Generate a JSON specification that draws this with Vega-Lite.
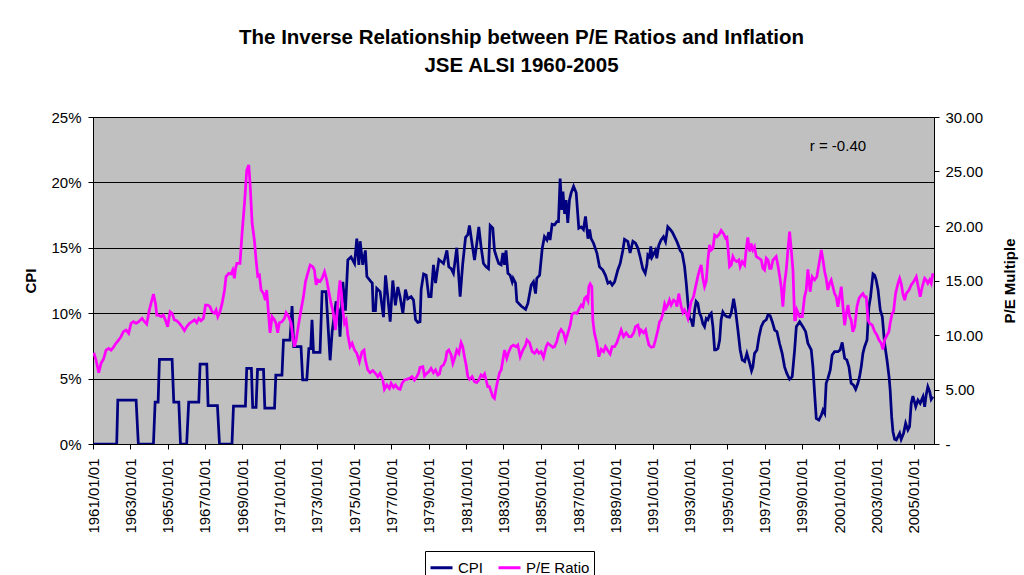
{
  "$schema": "https://vega.github.io/schema/vega-lite/v6.json",
  "width": 841,
  "height": 327,
  "autosize": {"type": "none"},
  "padding": {"left": 93, "top": 117, "right": 90, "bottom": 131},
  "background": "white",
  "title": {
    "text": ["The Inverse Relationship between P/E Ratios and Inflation", "JSE ALSI 1960-2005"],
    "font": "Liberation Sans",
    "fontSize": 20.5,
    "fontWeight": "bold",
    "lineHeight": 28,
    "color": "black",
    "anchor": "middle",
    "dx": 8,
    "offset": 34
  },
  "config": {
    "font": "Liberation Sans",
    "view": {"fill": "#C0C0C0", "stroke": "#808080", "strokeWidth": 1},
    "axis": {
      "labelFont": "Liberation Sans",
      "titleFont": "Liberation Sans",
      "labelColor": "black",
      "titleColor": "black",
      "domainColor": "black",
      "tickColor": "black",
      "labelFontSize": 15,
      "titleFontSize": 15,
      "tickSize": 5
    },
    "axisX": {"labelOverlap": false, "labelFlush": false, "labelBound": false, "labelSeparation": 0}
  },
  "data": {
    "values": [
      {"s": "CPI", "t": 1961.0, "v": 0},
      {"s": "CPI", "t": 1962.27, "v": 0},
      {"s": "CPI", "t": 1962.33, "v": 3.36},
      {"s": "CPI", "t": 1963.31, "v": 3.36},
      {"s": "CPI", "t": 1963.43, "v": 0},
      {"s": "CPI", "t": 1964.24, "v": 0},
      {"s": "CPI", "t": 1964.33, "v": 3.2},
      {"s": "CPI", "t": 1964.49, "v": 3.2},
      {"s": "CPI", "t": 1964.56, "v": 6.47},
      {"s": "CPI", "t": 1965.24, "v": 6.47},
      {"s": "CPI", "t": 1965.33, "v": 3.2},
      {"s": "CPI", "t": 1965.6, "v": 3.2},
      {"s": "CPI", "t": 1965.69, "v": 0},
      {"s": "CPI", "t": 1966.02, "v": 0},
      {"s": "CPI", "t": 1966.13, "v": 3.2},
      {"s": "CPI", "t": 1966.67, "v": 3.2},
      {"s": "CPI", "t": 1966.74, "v": 6.1},
      {"s": "CPI", "t": 1967.1, "v": 6.1},
      {"s": "CPI", "t": 1967.17, "v": 2.93},
      {"s": "CPI", "t": 1967.67, "v": 2.93},
      {"s": "CPI", "t": 1967.78, "v": 0},
      {"s": "CPI", "t": 1968.45, "v": 0},
      {"s": "CPI", "t": 1968.53, "v": 2.9},
      {"s": "CPI", "t": 1969.17, "v": 2.9},
      {"s": "CPI", "t": 1969.24, "v": 5.79},
      {"s": "CPI", "t": 1969.49, "v": 5.79},
      {"s": "CPI", "t": 1969.56, "v": 2.8},
      {"s": "CPI", "t": 1969.74, "v": 2.8},
      {"s": "CPI", "t": 1969.82, "v": 5.7},
      {"s": "CPI", "t": 1970.14, "v": 5.7},
      {"s": "CPI", "t": 1970.21, "v": 2.75},
      {"s": "CPI", "t": 1970.73, "v": 2.75},
      {"s": "CPI", "t": 1970.8, "v": 5.27},
      {"s": "CPI", "t": 1971.13, "v": 5.27},
      {"s": "CPI", "t": 1971.21, "v": 7.95},
      {"s": "CPI", "t": 1971.56, "v": 7.95},
      {"s": "CPI", "t": 1971.67, "v": 10.55},
      {"s": "CPI", "t": 1971.76, "v": 7.44},
      {"s": "CPI", "t": 1972.15, "v": 7.44},
      {"s": "CPI", "t": 1972.24, "v": 4.9},
      {"s": "CPI", "t": 1972.46, "v": 4.9},
      {"s": "CPI", "t": 1972.57, "v": 7.3},
      {"s": "CPI", "t": 1972.67, "v": 7.3},
      {"s": "CPI", "t": 1972.74, "v": 9.5},
      {"s": "CPI", "t": 1972.82, "v": 7.0},
      {"s": "CPI", "t": 1973.17, "v": 7.0},
      {"s": "CPI", "t": 1973.28, "v": 11.65},
      {"s": "CPI", "t": 1973.49, "v": 11.65},
      {"s": "CPI", "t": 1973.71, "v": 6.4},
      {"s": "CPI", "t": 1973.82, "v": 8.6},
      {"s": "CPI", "t": 1974.03, "v": 10.9},
      {"s": "CPI", "t": 1974.17, "v": 10.2},
      {"s": "CPI", "t": 1974.24, "v": 8.2},
      {"s": "CPI", "t": 1974.39, "v": 12.4},
      {"s": "CPI", "t": 1974.53, "v": 10.2},
      {"s": "CPI", "t": 1974.66, "v": 14.07},
      {"s": "CPI", "t": 1974.83, "v": 14.3},
      {"s": "CPI", "t": 1975.02, "v": 13.8},
      {"s": "CPI", "t": 1975.14, "v": 15.7},
      {"s": "CPI", "t": 1975.25, "v": 13.7},
      {"s": "CPI", "t": 1975.32, "v": 15.5},
      {"s": "CPI", "t": 1975.46, "v": 13.7},
      {"s": "CPI", "t": 1975.6, "v": 14.8},
      {"s": "CPI", "t": 1975.68, "v": 12.8},
      {"s": "CPI", "t": 1975.91, "v": 12.4},
      {"s": "CPI", "t": 1975.97, "v": 12.3},
      {"s": "CPI", "t": 1976.02, "v": 10.2},
      {"s": "CPI", "t": 1976.14, "v": 10.2},
      {"s": "CPI", "t": 1976.21, "v": 11.9},
      {"s": "CPI", "t": 1976.39, "v": 11.65},
      {"s": "CPI", "t": 1976.57, "v": 9.7},
      {"s": "CPI", "t": 1976.68, "v": 12.9},
      {"s": "CPI", "t": 1976.8, "v": 11.26},
      {"s": "CPI", "t": 1976.93, "v": 9.35},
      {"s": "CPI", "t": 1977.07, "v": 12.5},
      {"s": "CPI", "t": 1977.21, "v": 10.6},
      {"s": "CPI", "t": 1977.34, "v": 12.0},
      {"s": "CPI", "t": 1977.46, "v": 11.26},
      {"s": "CPI", "t": 1977.61, "v": 10.0},
      {"s": "CPI", "t": 1977.75, "v": 11.8},
      {"s": "CPI", "t": 1977.87, "v": 11.1},
      {"s": "CPI", "t": 1978.05, "v": 11.26},
      {"s": "CPI", "t": 1978.18, "v": 11.0},
      {"s": "CPI", "t": 1978.29, "v": 9.5},
      {"s": "CPI", "t": 1978.41, "v": 9.3},
      {"s": "CPI", "t": 1978.53, "v": 9.35},
      {"s": "CPI", "t": 1978.59, "v": 11.8},
      {"s": "CPI", "t": 1978.72, "v": 13.0},
      {"s": "CPI", "t": 1978.86, "v": 12.9},
      {"s": "CPI", "t": 1979.0, "v": 11.26},
      {"s": "CPI", "t": 1979.12, "v": 11.26},
      {"s": "CPI", "t": 1979.25, "v": 13.7},
      {"s": "CPI", "t": 1979.36, "v": 12.3},
      {"s": "CPI", "t": 1979.54, "v": 14.1},
      {"s": "CPI", "t": 1979.79, "v": 13.8},
      {"s": "CPI", "t": 1979.97, "v": 14.8},
      {"s": "CPI", "t": 1980.07, "v": 13.55},
      {"s": "CPI", "t": 1980.2, "v": 13.4},
      {"s": "CPI", "t": 1980.32, "v": 13.05},
      {"s": "CPI", "t": 1980.5, "v": 15.0},
      {"s": "CPI", "t": 1980.68, "v": 11.26},
      {"s": "CPI", "t": 1980.82, "v": 13.8},
      {"s": "CPI", "t": 1980.97, "v": 15.8},
      {"s": "CPI", "t": 1981.09, "v": 16.0},
      {"s": "CPI", "t": 1981.18, "v": 16.7},
      {"s": "CPI", "t": 1981.29, "v": 15.6},
      {"s": "CPI", "t": 1981.45, "v": 14.07},
      {"s": "CPI", "t": 1981.57, "v": 15.3},
      {"s": "CPI", "t": 1981.68, "v": 16.6},
      {"s": "CPI", "t": 1981.8, "v": 15.1},
      {"s": "CPI", "t": 1981.93, "v": 13.8},
      {"s": "CPI", "t": 1982.07, "v": 13.55},
      {"s": "CPI", "t": 1982.2, "v": 13.4},
      {"s": "CPI", "t": 1982.29, "v": 16.7},
      {"s": "CPI", "t": 1982.43, "v": 16.5},
      {"s": "CPI", "t": 1982.52, "v": 14.8},
      {"s": "CPI", "t": 1982.65, "v": 14.2},
      {"s": "CPI", "t": 1982.75, "v": 13.8},
      {"s": "CPI", "t": 1982.88, "v": 13.7},
      {"s": "CPI", "t": 1982.97, "v": 14.6},
      {"s": "CPI", "t": 1983.06, "v": 13.7},
      {"s": "CPI", "t": 1983.14, "v": 14.8},
      {"s": "CPI", "t": 1983.24, "v": 13.05},
      {"s": "CPI", "t": 1983.36, "v": 12.9},
      {"s": "CPI", "t": 1983.47, "v": 12.4},
      {"s": "CPI", "t": 1983.52, "v": 12.67},
      {"s": "CPI", "t": 1983.65, "v": 12.3},
      {"s": "CPI", "t": 1983.72, "v": 10.9},
      {"s": "CPI", "t": 1983.95, "v": 10.55},
      {"s": "CPI", "t": 1984.19, "v": 10.3},
      {"s": "CPI", "t": 1984.31, "v": 10.75},
      {"s": "CPI", "t": 1984.49, "v": 12.15},
      {"s": "CPI", "t": 1984.61, "v": 12.4},
      {"s": "CPI", "t": 1984.72, "v": 11.5},
      {"s": "CPI", "t": 1984.79, "v": 12.67},
      {"s": "CPI", "t": 1984.94, "v": 12.9},
      {"s": "CPI", "t": 1985.08, "v": 14.96},
      {"s": "CPI", "t": 1985.2, "v": 15.85},
      {"s": "CPI", "t": 1985.33, "v": 15.6},
      {"s": "CPI", "t": 1985.43, "v": 16.2},
      {"s": "CPI", "t": 1985.5, "v": 15.6},
      {"s": "CPI", "t": 1985.61, "v": 16.8},
      {"s": "CPI", "t": 1985.74, "v": 16.75},
      {"s": "CPI", "t": 1985.86, "v": 17.0},
      {"s": "CPI", "t": 1985.95, "v": 17.0},
      {"s": "CPI", "t": 1986.04, "v": 20.3},
      {"s": "CPI", "t": 1986.13, "v": 17.9},
      {"s": "CPI", "t": 1986.19, "v": 19.3},
      {"s": "CPI", "t": 1986.28, "v": 17.6},
      {"s": "CPI", "t": 1986.36, "v": 18.65},
      {"s": "CPI", "t": 1986.45, "v": 16.9},
      {"s": "CPI", "t": 1986.54, "v": 18.65},
      {"s": "CPI", "t": 1986.63, "v": 19.2},
      {"s": "CPI", "t": 1986.76, "v": 19.7},
      {"s": "CPI", "t": 1986.9, "v": 19.2},
      {"s": "CPI", "t": 1987.04, "v": 16.5},
      {"s": "CPI", "t": 1987.17, "v": 16.6},
      {"s": "CPI", "t": 1987.29, "v": 16.4},
      {"s": "CPI", "t": 1987.4, "v": 17.4},
      {"s": "CPI", "t": 1987.53, "v": 15.7},
      {"s": "CPI", "t": 1987.62, "v": 16.4},
      {"s": "CPI", "t": 1987.7, "v": 15.7},
      {"s": "CPI", "t": 1987.83, "v": 15.35},
      {"s": "CPI", "t": 1988.01, "v": 14.6},
      {"s": "CPI", "t": 1988.15, "v": 13.55},
      {"s": "CPI", "t": 1988.33, "v": 13.3},
      {"s": "CPI", "t": 1988.47, "v": 12.9},
      {"s": "CPI", "t": 1988.6, "v": 12.3},
      {"s": "CPI", "t": 1988.72, "v": 12.4},
      {"s": "CPI", "t": 1988.83, "v": 12.15},
      {"s": "CPI", "t": 1988.96, "v": 12.4},
      {"s": "CPI", "t": 1989.13, "v": 13.3},
      {"s": "CPI", "t": 1989.26, "v": 13.8},
      {"s": "CPI", "t": 1989.4, "v": 14.8},
      {"s": "CPI", "t": 1989.49, "v": 15.65},
      {"s": "CPI", "t": 1989.67, "v": 15.47},
      {"s": "CPI", "t": 1989.79, "v": 14.6},
      {"s": "CPI", "t": 1989.94, "v": 15.5},
      {"s": "CPI", "t": 1990.08, "v": 15.35},
      {"s": "CPI", "t": 1990.21, "v": 14.96},
      {"s": "CPI", "t": 1990.33, "v": 14.3},
      {"s": "CPI", "t": 1990.47, "v": 13.4},
      {"s": "CPI", "t": 1990.6, "v": 13.05},
      {"s": "CPI", "t": 1990.69, "v": 13.7},
      {"s": "CPI", "t": 1990.74, "v": 14.45},
      {"s": "CPI", "t": 1990.83, "v": 14.3},
      {"s": "CPI", "t": 1990.9, "v": 15.1},
      {"s": "CPI", "t": 1990.97, "v": 14.3},
      {"s": "CPI", "t": 1991.15, "v": 14.8},
      {"s": "CPI", "t": 1991.22, "v": 14.2},
      {"s": "CPI", "t": 1991.33, "v": 15.2},
      {"s": "CPI", "t": 1991.45, "v": 15.6},
      {"s": "CPI", "t": 1991.58, "v": 15.85},
      {"s": "CPI", "t": 1991.69, "v": 15.47},
      {"s": "CPI", "t": 1991.81, "v": 16.6},
      {"s": "CPI", "t": 1991.94, "v": 16.4},
      {"s": "CPI", "t": 1992.05, "v": 16.2},
      {"s": "CPI", "t": 1992.17, "v": 15.85},
      {"s": "CPI", "t": 1992.3, "v": 15.47},
      {"s": "CPI", "t": 1992.4, "v": 15.1},
      {"s": "CPI", "t": 1992.47, "v": 14.8},
      {"s": "CPI", "t": 1992.58, "v": 14.6},
      {"s": "CPI", "t": 1992.71, "v": 13.55},
      {"s": "CPI", "t": 1992.8, "v": 12.3},
      {"s": "CPI", "t": 1992.89, "v": 10.75},
      {"s": "CPI", "t": 1992.98, "v": 9.6},
      {"s": "CPI", "t": 1993.06, "v": 9.5},
      {"s": "CPI", "t": 1993.16, "v": 8.97},
      {"s": "CPI", "t": 1993.25, "v": 10.24},
      {"s": "CPI", "t": 1993.33, "v": 10.9},
      {"s": "CPI", "t": 1993.42, "v": 10.75},
      {"s": "CPI", "t": 1993.51, "v": 10.0},
      {"s": "CPI", "t": 1993.6, "v": 9.73},
      {"s": "CPI", "t": 1993.69, "v": 9.2},
      {"s": "CPI", "t": 1993.78, "v": 8.97},
      {"s": "CPI", "t": 1993.87, "v": 9.6},
      {"s": "CPI", "t": 1993.96, "v": 9.5},
      {"s": "CPI", "t": 1994.05, "v": 9.86},
      {"s": "CPI", "t": 1994.14, "v": 10.0},
      {"s": "CPI", "t": 1994.23, "v": 8.97},
      {"s": "CPI", "t": 1994.32, "v": 7.19},
      {"s": "CPI", "t": 1994.4, "v": 7.19},
      {"s": "CPI", "t": 1994.5, "v": 7.3},
      {"s": "CPI", "t": 1994.59, "v": 7.95},
      {"s": "CPI", "t": 1994.67, "v": 9.5},
      {"s": "CPI", "t": 1994.76, "v": 10.1},
      {"s": "CPI", "t": 1994.86, "v": 9.86},
      {"s": "CPI", "t": 1994.98, "v": 9.73},
      {"s": "CPI", "t": 1995.12, "v": 9.7},
      {"s": "CPI", "t": 1995.21, "v": 10.0},
      {"s": "CPI", "t": 1995.34, "v": 11.1},
      {"s": "CPI", "t": 1995.44, "v": 10.24},
      {"s": "CPI", "t": 1995.57, "v": 8.7},
      {"s": "CPI", "t": 1995.69, "v": 7.19},
      {"s": "CPI", "t": 1995.8, "v": 6.42},
      {"s": "CPI", "t": 1995.93, "v": 6.3},
      {"s": "CPI", "t": 1996.05, "v": 6.93},
      {"s": "CPI", "t": 1996.2, "v": 6.17},
      {"s": "CPI", "t": 1996.3, "v": 5.6},
      {"s": "CPI", "t": 1996.37, "v": 5.9},
      {"s": "CPI", "t": 1996.46, "v": 6.93},
      {"s": "CPI", "t": 1996.59, "v": 7.19},
      {"s": "CPI", "t": 1996.7, "v": 8.2},
      {"s": "CPI", "t": 1996.82, "v": 8.97},
      {"s": "CPI", "t": 1996.95, "v": 9.35},
      {"s": "CPI", "t": 1997.09, "v": 9.5},
      {"s": "CPI", "t": 1997.18, "v": 9.86},
      {"s": "CPI", "t": 1997.3, "v": 9.8},
      {"s": "CPI", "t": 1997.41, "v": 9.35},
      {"s": "CPI", "t": 1997.54, "v": 8.7},
      {"s": "CPI", "t": 1997.66, "v": 8.59},
      {"s": "CPI", "t": 1997.8, "v": 7.7},
      {"s": "CPI", "t": 1997.94, "v": 6.93},
      {"s": "CPI", "t": 1998.07, "v": 5.9},
      {"s": "CPI", "t": 1998.19, "v": 5.4},
      {"s": "CPI", "t": 1998.34, "v": 4.95},
      {"s": "CPI", "t": 1998.48, "v": 5.15},
      {"s": "CPI", "t": 1998.61, "v": 7.19},
      {"s": "CPI", "t": 1998.7, "v": 8.97},
      {"s": "CPI", "t": 1998.88, "v": 9.35},
      {"s": "CPI", "t": 1999.05, "v": 8.97},
      {"s": "CPI", "t": 1999.2, "v": 8.59},
      {"s": "CPI", "t": 1999.32, "v": 7.7},
      {"s": "CPI", "t": 1999.5, "v": 7.19},
      {"s": "CPI", "t": 1999.59, "v": 5.9},
      {"s": "CPI", "t": 1999.68, "v": 3.87},
      {"s": "CPI", "t": 1999.77, "v": 1.96},
      {"s": "CPI", "t": 1999.91, "v": 1.83},
      {"s": "CPI", "t": 2000.04, "v": 2.2},
      {"s": "CPI", "t": 2000.13, "v": 2.6},
      {"s": "CPI", "t": 2000.22, "v": 2.35},
      {"s": "CPI", "t": 2000.3, "v": 4.64},
      {"s": "CPI", "t": 2000.39, "v": 5.0},
      {"s": "CPI", "t": 2000.52, "v": 5.66},
      {"s": "CPI", "t": 2000.62, "v": 6.8},
      {"s": "CPI", "t": 2000.75, "v": 7.06},
      {"s": "CPI", "t": 2000.93, "v": 7.06},
      {"s": "CPI", "t": 2001.05, "v": 7.19},
      {"s": "CPI", "t": 2001.16, "v": 7.77},
      {"s": "CPI", "t": 2001.29, "v": 6.55},
      {"s": "CPI", "t": 2001.41, "v": 6.42},
      {"s": "CPI", "t": 2001.52, "v": 5.9},
      {"s": "CPI", "t": 2001.64, "v": 4.64},
      {"s": "CPI", "t": 2001.77, "v": 4.5},
      {"s": "CPI", "t": 2001.88, "v": 4.18},
      {"s": "CPI", "t": 2002.0, "v": 4.64},
      {"s": "CPI", "t": 2002.09, "v": 5.15},
      {"s": "CPI", "t": 2002.18, "v": 5.9},
      {"s": "CPI", "t": 2002.27, "v": 6.93},
      {"s": "CPI", "t": 2002.36, "v": 7.44},
      {"s": "CPI", "t": 2002.49, "v": 7.95},
      {"s": "CPI", "t": 2002.59, "v": 10.5},
      {"s": "CPI", "t": 2002.68, "v": 11.26},
      {"s": "CPI", "t": 2002.81, "v": 13.0},
      {"s": "CPI", "t": 2002.9, "v": 12.9},
      {"s": "CPI", "t": 2002.98, "v": 12.54},
      {"s": "CPI", "t": 2003.08, "v": 11.8},
      {"s": "CPI", "t": 2003.2, "v": 10.24},
      {"s": "CPI", "t": 2003.31, "v": 9.73},
      {"s": "CPI", "t": 2003.43, "v": 7.7},
      {"s": "CPI", "t": 2003.56, "v": 6.42},
      {"s": "CPI", "t": 2003.67, "v": 5.15},
      {"s": "CPI", "t": 2003.73, "v": 4.13},
      {"s": "CPI", "t": 2003.81, "v": 2.09},
      {"s": "CPI", "t": 2003.88, "v": 0.94},
      {"s": "CPI", "t": 2003.97, "v": 0.36},
      {"s": "CPI", "t": 2004.06, "v": 0.31},
      {"s": "CPI", "t": 2004.15, "v": 0.56},
      {"s": "CPI", "t": 2004.24, "v": 0.82},
      {"s": "CPI", "t": 2004.32, "v": 0.36},
      {"s": "CPI", "t": 2004.45, "v": 0.82},
      {"s": "CPI", "t": 2004.56, "v": 1.58},
      {"s": "CPI", "t": 2004.68, "v": 1.07},
      {"s": "CPI", "t": 2004.77, "v": 1.32},
      {"s": "CPI", "t": 2004.86, "v": 3.11},
      {"s": "CPI", "t": 2004.95, "v": 3.67},
      {"s": "CPI", "t": 2005.1, "v": 2.85},
      {"s": "CPI", "t": 2005.22, "v": 3.36},
      {"s": "CPI", "t": 2005.34, "v": 3.11},
      {"s": "CPI", "t": 2005.49, "v": 3.62},
      {"s": "CPI", "t": 2005.58, "v": 2.85},
      {"s": "CPI", "t": 2005.66, "v": 3.75},
      {"s": "CPI", "t": 2005.75, "v": 4.38},
      {"s": "CPI", "t": 2005.85, "v": 4.0},
      {"s": "CPI", "t": 2005.93, "v": 3.42},
      {"s": "CPI", "t": 2006.02, "v": 3.62},

      {"s": "P/E Ratio", "t": 1961.04, "v": 8.38},
      {"s": "P/E Ratio", "t": 1961.16, "v": 7.7},
      {"s": "P/E Ratio", "t": 1961.31, "v": 6.54},
      {"s": "P/E Ratio", "t": 1961.43, "v": 7.4},
      {"s": "P/E Ratio", "t": 1961.56, "v": 7.77},
      {"s": "P/E Ratio", "t": 1961.7, "v": 8.62},
      {"s": "P/E Ratio", "t": 1961.84, "v": 8.78},
      {"s": "P/E Ratio", "t": 1961.97, "v": 8.62},
      {"s": "P/E Ratio", "t": 1962.09, "v": 8.87},
      {"s": "P/E Ratio", "t": 1962.23, "v": 9.24},
      {"s": "P/E Ratio", "t": 1962.38, "v": 9.54},
      {"s": "P/E Ratio", "t": 1962.5, "v": 9.85},
      {"s": "P/E Ratio", "t": 1962.63, "v": 10.3},
      {"s": "P/E Ratio", "t": 1962.77, "v": 10.46},
      {"s": "P/E Ratio", "t": 1962.91, "v": 10.15},
      {"s": "P/E Ratio", "t": 1963.04, "v": 11.07},
      {"s": "P/E Ratio", "t": 1963.17, "v": 11.22},
      {"s": "P/E Ratio", "t": 1963.31, "v": 11.07},
      {"s": "P/E Ratio", "t": 1963.45, "v": 11.22},
      {"s": "P/E Ratio", "t": 1963.63, "v": 11.53},
      {"s": "P/E Ratio", "t": 1963.76, "v": 11.22},
      {"s": "P/E Ratio", "t": 1963.88, "v": 11.0},
      {"s": "P/E Ratio", "t": 1964.02, "v": 12.3},
      {"s": "P/E Ratio", "t": 1964.11, "v": 12.9},
      {"s": "P/E Ratio", "t": 1964.24, "v": 13.76},
      {"s": "P/E Ratio", "t": 1964.35, "v": 12.9},
      {"s": "P/E Ratio", "t": 1964.42, "v": 11.83},
      {"s": "P/E Ratio", "t": 1964.52, "v": 11.83},
      {"s": "P/E Ratio", "t": 1964.65, "v": 11.68},
      {"s": "P/E Ratio", "t": 1964.77, "v": 11.83},
      {"s": "P/E Ratio", "t": 1964.88, "v": 11.38},
      {"s": "P/E Ratio", "t": 1965.0, "v": 10.76},
      {"s": "P/E Ratio", "t": 1965.13, "v": 12.14},
      {"s": "P/E Ratio", "t": 1965.24, "v": 11.99},
      {"s": "P/E Ratio", "t": 1965.36, "v": 11.38},
      {"s": "P/E Ratio", "t": 1965.49, "v": 11.31},
      {"s": "P/E Ratio", "t": 1965.63, "v": 11.07},
      {"s": "P/E Ratio", "t": 1965.77, "v": 10.76},
      {"s": "P/E Ratio", "t": 1965.9, "v": 10.4},
      {"s": "P/E Ratio", "t": 1966.02, "v": 10.76},
      {"s": "P/E Ratio", "t": 1966.17, "v": 11.07},
      {"s": "P/E Ratio", "t": 1966.31, "v": 11.22},
      {"s": "P/E Ratio", "t": 1966.44, "v": 11.38},
      {"s": "P/E Ratio", "t": 1966.56, "v": 11.13},
      {"s": "P/E Ratio", "t": 1966.67, "v": 11.53},
      {"s": "P/E Ratio", "t": 1966.79, "v": 11.31},
      {"s": "P/E Ratio", "t": 1966.92, "v": 11.53},
      {"s": "P/E Ratio", "t": 1967.03, "v": 12.75},
      {"s": "P/E Ratio", "t": 1967.15, "v": 12.75},
      {"s": "P/E Ratio", "t": 1967.27, "v": 12.6},
      {"s": "P/E Ratio", "t": 1967.38, "v": 12.14},
      {"s": "P/E Ratio", "t": 1967.51, "v": 11.99},
      {"s": "P/E Ratio", "t": 1967.6, "v": 12.3},
      {"s": "P/E Ratio", "t": 1967.69, "v": 11.68},
      {"s": "P/E Ratio", "t": 1967.81, "v": 12.14},
      {"s": "P/E Ratio", "t": 1967.92, "v": 12.9},
      {"s": "P/E Ratio", "t": 1968.05, "v": 14.13},
      {"s": "P/E Ratio", "t": 1968.13, "v": 15.35},
      {"s": "P/E Ratio", "t": 1968.28, "v": 15.66},
      {"s": "P/E Ratio", "t": 1968.4, "v": 15.6},
      {"s": "P/E Ratio", "t": 1968.49, "v": 15.96},
      {"s": "P/E Ratio", "t": 1968.58, "v": 15.2},
      {"s": "P/E Ratio", "t": 1968.64, "v": 16.1},
      {"s": "P/E Ratio", "t": 1968.71, "v": 16.57},
      {"s": "P/E Ratio", "t": 1968.88, "v": 16.57},
      {"s": "P/E Ratio", "t": 1968.99, "v": 19.33},
      {"s": "P/E Ratio", "t": 1969.12, "v": 22.08},
      {"s": "P/E Ratio", "t": 1969.24, "v": 25.1},
      {"s": "P/E Ratio", "t": 1969.35, "v": 25.6},
      {"s": "P/E Ratio", "t": 1969.42, "v": 23.9},
      {"s": "P/E Ratio", "t": 1969.53, "v": 20.25},
      {"s": "P/E Ratio", "t": 1969.65, "v": 18.7},
      {"s": "P/E Ratio", "t": 1969.74, "v": 16.9},
      {"s": "P/E Ratio", "t": 1969.83, "v": 15.4},
      {"s": "P/E Ratio", "t": 1969.92, "v": 15.5},
      {"s": "P/E Ratio", "t": 1970.01, "v": 14.13},
      {"s": "P/E Ratio", "t": 1970.14, "v": 13.8},
      {"s": "P/E Ratio", "t": 1970.24, "v": 13.2},
      {"s": "P/E Ratio", "t": 1970.31, "v": 14.13},
      {"s": "P/E Ratio", "t": 1970.42, "v": 11.68},
      {"s": "P/E Ratio", "t": 1970.49, "v": 10.2},
      {"s": "P/E Ratio", "t": 1970.6, "v": 11.68},
      {"s": "P/E Ratio", "t": 1970.73, "v": 11.38},
      {"s": "P/E Ratio", "t": 1970.81, "v": 11.07},
      {"s": "P/E Ratio", "t": 1970.9, "v": 10.2},
      {"s": "P/E Ratio", "t": 1970.99, "v": 11.13},
      {"s": "P/E Ratio", "t": 1971.13, "v": 11.22},
      {"s": "P/E Ratio", "t": 1971.26, "v": 11.53},
      {"s": "P/E Ratio", "t": 1971.35, "v": 12.05},
      {"s": "P/E Ratio", "t": 1971.49, "v": 11.68},
      {"s": "P/E Ratio", "t": 1971.62, "v": 11.07},
      {"s": "P/E Ratio", "t": 1971.71, "v": 9.85},
      {"s": "P/E Ratio", "t": 1971.8, "v": 8.93},
      {"s": "P/E Ratio", "t": 1971.89, "v": 9.54},
      {"s": "P/E Ratio", "t": 1972.03, "v": 11.07},
      {"s": "P/E Ratio", "t": 1972.15, "v": 12.3},
      {"s": "P/E Ratio", "t": 1972.28, "v": 13.5},
      {"s": "P/E Ratio", "t": 1972.39, "v": 14.9},
      {"s": "P/E Ratio", "t": 1972.51, "v": 15.66},
      {"s": "P/E Ratio", "t": 1972.64, "v": 16.42},
      {"s": "P/E Ratio", "t": 1972.78, "v": 16.27},
      {"s": "P/E Ratio", "t": 1972.87, "v": 15.96},
      {"s": "P/E Ratio", "t": 1972.96, "v": 14.6},
      {"s": "P/E Ratio", "t": 1973.05, "v": 15.05},
      {"s": "P/E Ratio", "t": 1973.17, "v": 14.9},
      {"s": "P/E Ratio", "t": 1973.28, "v": 15.2},
      {"s": "P/E Ratio", "t": 1973.41, "v": 15.8},
      {"s": "P/E Ratio", "t": 1973.53, "v": 15.05},
      {"s": "P/E Ratio", "t": 1973.64, "v": 13.97},
      {"s": "P/E Ratio", "t": 1973.76, "v": 12.9},
      {"s": "P/E Ratio", "t": 1973.85, "v": 12.3},
      {"s": "P/E Ratio", "t": 1973.94, "v": 11.38},
      {"s": "P/E Ratio", "t": 1974.0, "v": 10.46},
      {"s": "P/E Ratio", "t": 1974.07, "v": 11.68},
      {"s": "P/E Ratio", "t": 1974.17, "v": 13.8},
      {"s": "P/E Ratio", "t": 1974.24, "v": 15.0},
      {"s": "P/E Ratio", "t": 1974.32, "v": 13.8},
      {"s": "P/E Ratio", "t": 1974.39, "v": 12.3},
      {"s": "P/E Ratio", "t": 1974.48, "v": 11.07},
      {"s": "P/E Ratio", "t": 1974.57, "v": 11.38},
      {"s": "P/E Ratio", "t": 1974.66, "v": 10.0},
      {"s": "P/E Ratio", "t": 1974.78, "v": 8.93},
      {"s": "P/E Ratio", "t": 1974.89, "v": 9.24},
      {"s": "P/E Ratio", "t": 1975.02, "v": 8.62},
      {"s": "P/E Ratio", "t": 1975.14, "v": 8.32},
      {"s": "P/E Ratio", "t": 1975.28, "v": 7.55},
      {"s": "P/E Ratio", "t": 1975.42, "v": 8.47},
      {"s": "P/E Ratio", "t": 1975.53, "v": 8.62},
      {"s": "P/E Ratio", "t": 1975.6, "v": 7.7},
      {"s": "P/E Ratio", "t": 1975.73, "v": 6.79},
      {"s": "P/E Ratio", "t": 1975.85, "v": 6.54},
      {"s": "P/E Ratio", "t": 1976.0, "v": 6.73},
      {"s": "P/E Ratio", "t": 1976.14, "v": 6.48},
      {"s": "P/E Ratio", "t": 1976.27, "v": 6.18},
      {"s": "P/E Ratio", "t": 1976.39, "v": 6.48},
      {"s": "P/E Ratio", "t": 1976.53, "v": 5.93},
      {"s": "P/E Ratio", "t": 1976.62, "v": 5.02},
      {"s": "P/E Ratio", "t": 1976.75, "v": 5.41},
      {"s": "P/E Ratio", "t": 1976.89, "v": 5.11},
      {"s": "P/E Ratio", "t": 1976.98, "v": 5.57},
      {"s": "P/E Ratio", "t": 1977.11, "v": 5.2},
      {"s": "P/E Ratio", "t": 1977.21, "v": 5.41},
      {"s": "P/E Ratio", "t": 1977.34, "v": 5.11},
      {"s": "P/E Ratio", "t": 1977.46, "v": 5.02},
      {"s": "P/E Ratio", "t": 1977.57, "v": 5.57},
      {"s": "P/E Ratio", "t": 1977.7, "v": 5.87},
      {"s": "P/E Ratio", "t": 1977.82, "v": 5.93},
      {"s": "P/E Ratio", "t": 1977.97, "v": 6.03},
      {"s": "P/E Ratio", "t": 1978.1, "v": 6.18},
      {"s": "P/E Ratio", "t": 1978.23, "v": 5.87},
      {"s": "P/E Ratio", "t": 1978.36, "v": 6.18},
      {"s": "P/E Ratio", "t": 1978.46, "v": 6.54},
      {"s": "P/E Ratio", "t": 1978.53, "v": 7.03},
      {"s": "P/E Ratio", "t": 1978.68, "v": 7.09},
      {"s": "P/E Ratio", "t": 1978.77, "v": 6.24},
      {"s": "P/E Ratio", "t": 1978.89, "v": 6.48},
      {"s": "P/E Ratio", "t": 1979.0, "v": 6.63},
      {"s": "P/E Ratio", "t": 1979.12, "v": 6.94},
      {"s": "P/E Ratio", "t": 1979.25, "v": 6.54},
      {"s": "P/E Ratio", "t": 1979.36, "v": 6.79},
      {"s": "P/E Ratio", "t": 1979.48, "v": 6.33},
      {"s": "P/E Ratio", "t": 1979.57, "v": 6.42},
      {"s": "P/E Ratio", "t": 1979.66, "v": 7.09},
      {"s": "P/E Ratio", "t": 1979.79, "v": 7.25},
      {"s": "P/E Ratio", "t": 1979.9, "v": 7.7},
      {"s": "P/E Ratio", "t": 1979.97, "v": 8.47},
      {"s": "P/E Ratio", "t": 1980.07, "v": 8.62},
      {"s": "P/E Ratio", "t": 1980.2, "v": 8.17},
      {"s": "P/E Ratio", "t": 1980.29, "v": 7.4},
      {"s": "P/E Ratio", "t": 1980.38, "v": 7.86},
      {"s": "P/E Ratio", "t": 1980.5, "v": 8.62},
      {"s": "P/E Ratio", "t": 1980.61, "v": 8.32},
      {"s": "P/E Ratio", "t": 1980.73, "v": 9.3},
      {"s": "P/E Ratio", "t": 1980.82, "v": 8.93},
      {"s": "P/E Ratio", "t": 1980.91, "v": 8.0},
      {"s": "P/E Ratio", "t": 1981.0, "v": 7.25},
      {"s": "P/E Ratio", "t": 1981.09, "v": 6.18},
      {"s": "P/E Ratio", "t": 1981.18, "v": 5.93},
      {"s": "P/E Ratio", "t": 1981.32, "v": 6.18},
      {"s": "P/E Ratio", "t": 1981.45, "v": 5.72},
      {"s": "P/E Ratio", "t": 1981.57, "v": 5.63},
      {"s": "P/E Ratio", "t": 1981.68, "v": 5.87},
      {"s": "P/E Ratio", "t": 1981.8, "v": 6.33},
      {"s": "P/E Ratio", "t": 1981.9, "v": 6.18},
      {"s": "P/E Ratio", "t": 1981.99, "v": 6.42},
      {"s": "P/E Ratio", "t": 1982.07, "v": 5.87},
      {"s": "P/E Ratio", "t": 1982.16, "v": 5.26},
      {"s": "P/E Ratio", "t": 1982.25, "v": 5.26},
      {"s": "P/E Ratio", "t": 1982.34, "v": 4.8},
      {"s": "P/E Ratio", "t": 1982.43, "v": 4.34},
      {"s": "P/E Ratio", "t": 1982.52, "v": 4.19},
      {"s": "P/E Ratio", "t": 1982.61, "v": 5.11},
      {"s": "P/E Ratio", "t": 1982.7, "v": 5.87},
      {"s": "P/E Ratio", "t": 1982.79, "v": 6.54},
      {"s": "P/E Ratio", "t": 1982.88, "v": 6.79},
      {"s": "P/E Ratio", "t": 1982.97, "v": 7.7},
      {"s": "P/E Ratio", "t": 1983.06, "v": 8.62},
      {"s": "P/E Ratio", "t": 1983.18, "v": 7.86},
      {"s": "P/E Ratio", "t": 1983.29, "v": 8.47},
      {"s": "P/E Ratio", "t": 1983.41, "v": 8.93},
      {"s": "P/E Ratio", "t": 1983.54, "v": 9.08},
      {"s": "P/E Ratio", "t": 1983.68, "v": 8.93},
      {"s": "P/E Ratio", "t": 1983.77, "v": 9.08},
      {"s": "P/E Ratio", "t": 1983.9, "v": 8.01},
      {"s": "P/E Ratio", "t": 1984.04, "v": 8.62},
      {"s": "P/E Ratio", "t": 1984.19, "v": 9.08},
      {"s": "P/E Ratio", "t": 1984.26, "v": 9.54},
      {"s": "P/E Ratio", "t": 1984.4, "v": 9.3},
      {"s": "P/E Ratio", "t": 1984.54, "v": 8.47},
      {"s": "P/E Ratio", "t": 1984.67, "v": 8.32},
      {"s": "P/E Ratio", "t": 1984.79, "v": 8.62},
      {"s": "P/E Ratio", "t": 1984.9, "v": 8.32},
      {"s": "P/E Ratio", "t": 1985.02, "v": 8.47},
      {"s": "P/E Ratio", "t": 1985.15, "v": 7.95},
      {"s": "P/E Ratio", "t": 1985.29, "v": 8.93},
      {"s": "P/E Ratio", "t": 1985.38, "v": 9.24},
      {"s": "P/E Ratio", "t": 1985.5, "v": 9.08},
      {"s": "P/E Ratio", "t": 1985.65, "v": 8.87},
      {"s": "P/E Ratio", "t": 1985.74, "v": 8.93},
      {"s": "P/E Ratio", "t": 1985.86, "v": 9.39},
      {"s": "P/E Ratio", "t": 1985.97, "v": 10.15},
      {"s": "P/E Ratio", "t": 1986.09, "v": 10.5},
      {"s": "P/E Ratio", "t": 1986.22, "v": 10.2},
      {"s": "P/E Ratio", "t": 1986.33, "v": 9.48},
      {"s": "P/E Ratio", "t": 1986.45, "v": 10.15},
      {"s": "P/E Ratio", "t": 1986.58, "v": 10.9},
      {"s": "P/E Ratio", "t": 1986.68, "v": 11.9},
      {"s": "P/E Ratio", "t": 1986.81, "v": 12.05},
      {"s": "P/E Ratio", "t": 1986.94, "v": 11.99},
      {"s": "P/E Ratio", "t": 1987.04, "v": 12.35},
      {"s": "P/E Ratio", "t": 1987.17, "v": 12.75},
      {"s": "P/E Ratio", "t": 1987.26, "v": 12.6},
      {"s": "P/E Ratio", "t": 1987.35, "v": 13.36},
      {"s": "P/E Ratio", "t": 1987.43, "v": 13.5},
      {"s": "P/E Ratio", "t": 1987.53, "v": 13.15},
      {"s": "P/E Ratio", "t": 1987.58, "v": 14.43},
      {"s": "P/E Ratio", "t": 1987.65, "v": 14.68},
      {"s": "P/E Ratio", "t": 1987.74, "v": 14.43},
      {"s": "P/E Ratio", "t": 1987.79, "v": 11.38},
      {"s": "P/E Ratio", "t": 1987.88, "v": 10.15},
      {"s": "P/E Ratio", "t": 1988.01, "v": 9.24},
      {"s": "P/E Ratio", "t": 1988.12, "v": 8.01},
      {"s": "P/E Ratio", "t": 1988.24, "v": 8.68},
      {"s": "P/E Ratio", "t": 1988.37, "v": 8.47},
      {"s": "P/E Ratio", "t": 1988.47, "v": 8.93},
      {"s": "P/E Ratio", "t": 1988.6, "v": 8.56},
      {"s": "P/E Ratio", "t": 1988.72, "v": 8.26},
      {"s": "P/E Ratio", "t": 1988.83, "v": 8.93},
      {"s": "P/E Ratio", "t": 1988.96, "v": 8.93},
      {"s": "P/E Ratio", "t": 1989.08, "v": 9.3},
      {"s": "P/E Ratio", "t": 1989.19, "v": 9.85},
      {"s": "P/E Ratio", "t": 1989.31, "v": 10.46},
      {"s": "P/E Ratio", "t": 1989.44, "v": 9.85},
      {"s": "P/E Ratio", "t": 1989.58, "v": 10.2},
      {"s": "P/E Ratio", "t": 1989.72, "v": 9.85},
      {"s": "P/E Ratio", "t": 1989.85, "v": 9.85},
      {"s": "P/E Ratio", "t": 1989.98, "v": 10.2},
      {"s": "P/E Ratio", "t": 1990.08, "v": 10.76},
      {"s": "P/E Ratio", "t": 1990.21, "v": 10.9},
      {"s": "P/E Ratio", "t": 1990.3, "v": 10.15},
      {"s": "P/E Ratio", "t": 1990.38, "v": 10.46},
      {"s": "P/E Ratio", "t": 1990.51, "v": 10.2},
      {"s": "P/E Ratio", "t": 1990.62, "v": 10.46},
      {"s": "P/E Ratio", "t": 1990.69, "v": 9.85},
      {"s": "P/E Ratio", "t": 1990.8, "v": 9.08},
      {"s": "P/E Ratio", "t": 1990.92, "v": 8.87},
      {"s": "P/E Ratio", "t": 1991.05, "v": 8.93},
      {"s": "P/E Ratio", "t": 1991.15, "v": 9.54},
      {"s": "P/E Ratio", "t": 1991.28, "v": 10.46},
      {"s": "P/E Ratio", "t": 1991.37, "v": 11.22},
      {"s": "P/E Ratio", "t": 1991.45, "v": 11.38},
      {"s": "P/E Ratio", "t": 1991.55, "v": 11.99},
      {"s": "P/E Ratio", "t": 1991.64, "v": 12.84},
      {"s": "P/E Ratio", "t": 1991.72, "v": 12.45},
      {"s": "P/E Ratio", "t": 1991.81, "v": 12.75},
      {"s": "P/E Ratio", "t": 1991.9, "v": 13.2},
      {"s": "P/E Ratio", "t": 1991.99, "v": 12.75},
      {"s": "P/E Ratio", "t": 1992.12, "v": 13.2},
      {"s": "P/E Ratio", "t": 1992.23, "v": 13.05},
      {"s": "P/E Ratio", "t": 1992.3, "v": 12.6},
      {"s": "P/E Ratio", "t": 1992.4, "v": 13.8},
      {"s": "P/E Ratio", "t": 1992.53, "v": 12.6},
      {"s": "P/E Ratio", "t": 1992.62, "v": 12.05},
      {"s": "P/E Ratio", "t": 1992.71, "v": 12.3},
      {"s": "P/E Ratio", "t": 1992.8, "v": 11.99},
      {"s": "P/E Ratio", "t": 1992.89, "v": 11.53},
      {"s": "P/E Ratio", "t": 1992.98, "v": 12.3},
      {"s": "P/E Ratio", "t": 1993.06, "v": 13.05},
      {"s": "P/E Ratio", "t": 1993.19, "v": 13.5},
      {"s": "P/E Ratio", "t": 1993.3, "v": 14.43},
      {"s": "P/E Ratio", "t": 1993.42, "v": 15.35},
      {"s": "P/E Ratio", "t": 1993.51, "v": 15.96},
      {"s": "P/E Ratio", "t": 1993.6, "v": 16.42},
      {"s": "P/E Ratio", "t": 1993.69, "v": 15.2},
      {"s": "P/E Ratio", "t": 1993.78, "v": 14.43},
      {"s": "P/E Ratio", "t": 1993.87, "v": 14.9},
      {"s": "P/E Ratio", "t": 1993.96, "v": 16.88},
      {"s": "P/E Ratio", "t": 1994.05, "v": 18.26},
      {"s": "P/E Ratio", "t": 1994.14, "v": 17.8},
      {"s": "P/E Ratio", "t": 1994.23, "v": 17.95},
      {"s": "P/E Ratio", "t": 1994.32, "v": 19.17},
      {"s": "P/E Ratio", "t": 1994.44, "v": 19.0},
      {"s": "P/E Ratio", "t": 1994.59, "v": 19.3},
      {"s": "P/E Ratio", "t": 1994.67, "v": 19.6},
      {"s": "P/E Ratio", "t": 1994.8, "v": 19.3},
      {"s": "P/E Ratio", "t": 1994.91, "v": 18.87},
      {"s": "P/E Ratio", "t": 1994.98, "v": 18.96},
      {"s": "P/E Ratio", "t": 1995.03, "v": 18.1},
      {"s": "P/E Ratio", "t": 1995.12, "v": 16.27},
      {"s": "P/E Ratio", "t": 1995.21, "v": 16.42},
      {"s": "P/E Ratio", "t": 1995.3, "v": 17.2},
      {"s": "P/E Ratio", "t": 1995.39, "v": 16.88},
      {"s": "P/E Ratio", "t": 1995.51, "v": 16.73},
      {"s": "P/E Ratio", "t": 1995.62, "v": 16.88},
      {"s": "P/E Ratio", "t": 1995.69, "v": 16.27},
      {"s": "P/E Ratio", "t": 1995.8, "v": 16.73},
      {"s": "P/E Ratio", "t": 1995.93, "v": 16.42},
      {"s": "P/E Ratio", "t": 1996.01, "v": 17.8},
      {"s": "P/E Ratio", "t": 1996.1, "v": 18.96},
      {"s": "P/E Ratio", "t": 1996.2, "v": 17.65},
      {"s": "P/E Ratio", "t": 1996.28, "v": 18.4},
      {"s": "P/E Ratio", "t": 1996.37, "v": 17.8},
      {"s": "P/E Ratio", "t": 1996.46, "v": 18.1},
      {"s": "P/E Ratio", "t": 1996.55, "v": 17.2},
      {"s": "P/E Ratio", "t": 1996.7, "v": 17.04},
      {"s": "P/E Ratio", "t": 1996.82, "v": 16.88},
      {"s": "P/E Ratio", "t": 1996.91, "v": 16.12},
      {"s": "P/E Ratio", "t": 1997.0, "v": 15.96},
      {"s": "P/E Ratio", "t": 1997.09, "v": 17.04},
      {"s": "P/E Ratio", "t": 1997.18, "v": 16.88},
      {"s": "P/E Ratio", "t": 1997.27, "v": 16.12},
      {"s": "P/E Ratio", "t": 1997.35, "v": 16.12},
      {"s": "P/E Ratio", "t": 1997.45, "v": 16.88},
      {"s": "P/E Ratio", "t": 1997.54, "v": 17.04},
      {"s": "P/E Ratio", "t": 1997.62, "v": 17.2},
      {"s": "P/E Ratio", "t": 1997.71, "v": 16.42},
      {"s": "P/E Ratio", "t": 1997.8, "v": 15.5},
      {"s": "P/E Ratio", "t": 1997.89, "v": 14.43},
      {"s": "P/E Ratio", "t": 1997.98, "v": 12.6},
      {"s": "P/E Ratio", "t": 1998.07, "v": 14.74},
      {"s": "P/E Ratio", "t": 1998.16, "v": 15.96},
      {"s": "P/E Ratio", "t": 1998.25, "v": 17.8},
      {"s": "P/E Ratio", "t": 1998.34, "v": 19.48},
      {"s": "P/E Ratio", "t": 1998.43, "v": 17.8},
      {"s": "P/E Ratio", "t": 1998.52, "v": 15.96},
      {"s": "P/E Ratio", "t": 1998.61, "v": 11.38},
      {"s": "P/E Ratio", "t": 1998.66, "v": 11.38},
      {"s": "P/E Ratio", "t": 1998.73, "v": 12.3},
      {"s": "P/E Ratio", "t": 1998.88, "v": 11.68},
      {"s": "P/E Ratio", "t": 1999.02, "v": 11.68},
      {"s": "P/E Ratio", "t": 1999.14, "v": 13.5},
      {"s": "P/E Ratio", "t": 1999.23, "v": 14.13},
      {"s": "P/E Ratio", "t": 1999.32, "v": 16.03},
      {"s": "P/E Ratio", "t": 1999.44, "v": 13.97},
      {"s": "P/E Ratio", "t": 1999.55, "v": 15.35},
      {"s": "P/E Ratio", "t": 1999.68, "v": 15.05},
      {"s": "P/E Ratio", "t": 1999.8, "v": 15.35},
      {"s": "P/E Ratio", "t": 1999.95, "v": 16.88},
      {"s": "P/E Ratio", "t": 2000.04, "v": 17.8},
      {"s": "P/E Ratio", "t": 2000.13, "v": 16.88},
      {"s": "P/E Ratio", "t": 2000.22, "v": 15.8},
      {"s": "P/E Ratio", "t": 2000.3, "v": 15.2},
      {"s": "P/E Ratio", "t": 2000.39, "v": 14.13},
      {"s": "P/E Ratio", "t": 2000.48, "v": 14.74},
      {"s": "P/E Ratio", "t": 2000.57, "v": 15.05},
      {"s": "P/E Ratio", "t": 2000.66, "v": 14.43},
      {"s": "P/E Ratio", "t": 2000.75, "v": 13.8},
      {"s": "P/E Ratio", "t": 2000.84, "v": 13.5},
      {"s": "P/E Ratio", "t": 2000.93, "v": 12.6},
      {"s": "P/E Ratio", "t": 2001.02, "v": 13.5},
      {"s": "P/E Ratio", "t": 2001.11, "v": 14.43},
      {"s": "P/E Ratio", "t": 2001.2, "v": 12.6},
      {"s": "P/E Ratio", "t": 2001.29, "v": 10.9},
      {"s": "P/E Ratio", "t": 2001.38, "v": 11.99},
      {"s": "P/E Ratio", "t": 2001.47, "v": 12.75},
      {"s": "P/E Ratio", "t": 2001.56, "v": 11.68},
      {"s": "P/E Ratio", "t": 2001.64, "v": 11.38},
      {"s": "P/E Ratio", "t": 2001.73, "v": 10.3},
      {"s": "P/E Ratio", "t": 2001.83, "v": 10.76},
      {"s": "P/E Ratio", "t": 2001.95, "v": 12.6},
      {"s": "P/E Ratio", "t": 2002.06, "v": 13.36},
      {"s": "P/E Ratio", "t": 2002.18, "v": 13.66},
      {"s": "P/E Ratio", "t": 2002.27, "v": 13.8},
      {"s": "P/E Ratio", "t": 2002.36, "v": 13.5},
      {"s": "P/E Ratio", "t": 2002.45, "v": 13.5},
      {"s": "P/E Ratio", "t": 2002.54, "v": 11.38},
      {"s": "P/E Ratio", "t": 2002.63, "v": 11.07},
      {"s": "P/E Ratio", "t": 2002.77, "v": 10.9},
      {"s": "P/E Ratio", "t": 2002.9, "v": 10.3},
      {"s": "P/E Ratio", "t": 2003.02, "v": 10.0},
      {"s": "P/E Ratio", "t": 2003.13, "v": 9.54},
      {"s": "P/E Ratio", "t": 2003.25, "v": 9.24},
      {"s": "P/E Ratio", "t": 2003.34, "v": 8.68},
      {"s": "P/E Ratio", "t": 2003.43, "v": 9.54},
      {"s": "P/E Ratio", "t": 2003.52, "v": 9.85},
      {"s": "P/E Ratio", "t": 2003.66, "v": 10.3},
      {"s": "P/E Ratio", "t": 2003.73, "v": 11.07},
      {"s": "P/E Ratio", "t": 2003.84, "v": 11.99},
      {"s": "P/E Ratio", "t": 2003.91, "v": 12.14},
      {"s": "P/E Ratio", "t": 2004.02, "v": 13.8},
      {"s": "P/E Ratio", "t": 2004.15, "v": 14.74},
      {"s": "P/E Ratio", "t": 2004.24, "v": 15.2},
      {"s": "P/E Ratio", "t": 2004.32, "v": 14.74},
      {"s": "P/E Ratio", "t": 2004.41, "v": 13.8},
      {"s": "P/E Ratio", "t": 2004.51, "v": 13.2},
      {"s": "P/E Ratio", "t": 2004.59, "v": 13.8},
      {"s": "P/E Ratio", "t": 2004.74, "v": 14.13},
      {"s": "P/E Ratio", "t": 2004.86, "v": 14.6},
      {"s": "P/E Ratio", "t": 2004.99, "v": 14.9},
      {"s": "P/E Ratio", "t": 2005.13, "v": 15.35},
      {"s": "P/E Ratio", "t": 2005.27, "v": 14.13},
      {"s": "P/E Ratio", "t": 2005.34, "v": 13.5},
      {"s": "P/E Ratio", "t": 2005.45, "v": 14.43},
      {"s": "P/E Ratio", "t": 2005.58, "v": 15.2},
      {"s": "P/E Ratio", "t": 2005.66, "v": 15.05},
      {"s": "P/E Ratio", "t": 2005.75, "v": 14.74},
      {"s": "P/E Ratio", "t": 2005.85, "v": 15.05},
      {"s": "P/E Ratio", "t": 2005.93, "v": 14.74},
      {"s": "P/E Ratio", "t": 2006.02, "v": 15.66}
    ]
  },
  "layer": [
    {
      "layer": [
        {
          "transform": [{"filter": "datum.s == 'CPI'"}],
          "mark": {"type": "line", "strokeWidth": 2.75, "clip": true},
          "encoding": {
            "x": {
              "field": "t", "type": "quantitative",
              "scale": {"domain": [1961, 2006.08], "nice": false, "zero": false},
              "axis": {
                "title": null,
                "values": [1961, 1963, 1965, 1967, 1969, 1971, 1973, 1975, 1977, 1979, 1981, 1983, 1985, 1987, 1989, 1991, 1993, 1995, 1997, 1999, 2001, 2003, 2005],
                "tickCount": 30,
                "labelExpr": "datum.value + '/01/01'",
                "labelAngle": 270,
                "labelPadding": 9,
                "labelOverlap": false,
                "labelFlush": false,
                "labelBound": false,
                "grid": false
              }
            },
            "y": {
              "field": "v", "type": "quantitative",
              "scale": {"domain": [0, 25], "nice": false, "zero": true},
              "axis": {
                "title": "CPI",
                "titleFontWeight": "bold",
                "titlePadding": 12,
                "values": [0, 5, 10, 15, 20, 25],
                "labelExpr": "datum.value + '%'",
                "labelPadding": 7,
                "grid": true,
                "gridColor": "black",
                "gridWidth": 1,
                "gridOpacity": 1
              }
            },
            "color": {
              "field": "s", "type": "nominal",
              "scale": {"domain": ["CPI", "P/E Ratio"], "range": ["#000080", "#FF00FF"]},
              "legend": {
                "orient": "none",
                "legendX": 332,
                "legendY": 434,
                "direction": "horizontal",
                "title": null,
                "labelFont": "Liberation Sans",
                "labelFontSize": 15,
                "labelColor": "black",
                "labelOffset": 4,
                "symbolType": "stroke",
                "symbolSize": 484,
                "symbolStrokeWidth": 3,
                "columnPadding": 8,
                "padding": 4,
                "strokeColor": "black",
                "fillColor": "white",
                "cornerRadius": 0
              }
            }
          }
        },
        {
          "data": {"values": [{"label": "r = -0.40"}]},
          "mark": {"type": "text", "font": "Liberation Sans", "fontSize": 15, "color": "black", "align": "center", "baseline": "middle"},
          "encoding": {
            "x": {"datum": 2000.93, "type": "quantitative"},
            "y": {"datum": 22.78, "type": "quantitative"},
            "text": {"field": "label"}
          }
        }
      ]
    },
    {
      "transform": [{"filter": "datum.s == 'P/E Ratio'"}],
      "mark": {"type": "line", "strokeWidth": 2.75, "clip": true},
      "encoding": {
        "x": {
          "field": "t", "type": "quantitative",
          "scale": {"domain": [1961, 2006.08], "nice": false, "zero": false},
          "axis": {
            "title": null,
            "values": [1961, 1963, 1965, 1967, 1969, 1971, 1973, 1975, 1977, 1979, 1981, 1983, 1985, 1987, 1989, 1991, 1993, 1995, 1997, 1999, 2001, 2003, 2005],
            "tickCount": 30,
            "labelExpr": "datum.value + '/01/01'",
            "labelAngle": 270,
            "labelPadding": 9,
            "labelOverlap": false,
            "labelFlush": false,
            "labelBound": false,
            "grid": false
          }
        },
        "y": {
          "field": "v", "type": "quantitative",
          "scale": {"domain": [0, 30], "nice": false, "zero": true},
          "axis": {
            "orient": "right",
            "title": "P/E Multiple",
            "titleFontWeight": "bold",
            "titleAngle": 270,
            "titleBaseline": "top",
            "titlePadding": 20,
            "values": [0, 5, 10, 15, 20, 25, 30],
            "labelExpr": "datum.value == 0 ? '\u00a0\u00a0\u00a0-' : format(datum.value, '.2f')",
            "labelPadding": 6,
            "grid": false
          }
        },
        "color": {
          "field": "s", "type": "nominal",
          "scale": {"domain": ["CPI", "P/E Ratio"], "range": ["#000080", "#FF00FF"]},
          "legend": {
            "orient": "none",
            "legendX": 332,
            "legendY": 434,
            "direction": "horizontal",
            "title": null,
            "labelFont": "Liberation Sans",
            "labelFontSize": 15,
            "labelColor": "black",
            "labelOffset": 4,
            "symbolType": "stroke",
            "symbolSize": 484,
            "symbolStrokeWidth": 3,
            "columnPadding": 8,
            "padding": 4,
            "strokeColor": "black",
            "fillColor": "white",
            "cornerRadius": 0
          }
        }
      }
    }
  ],
  "resolve": {"scale": {"y": "independent"}}
}
